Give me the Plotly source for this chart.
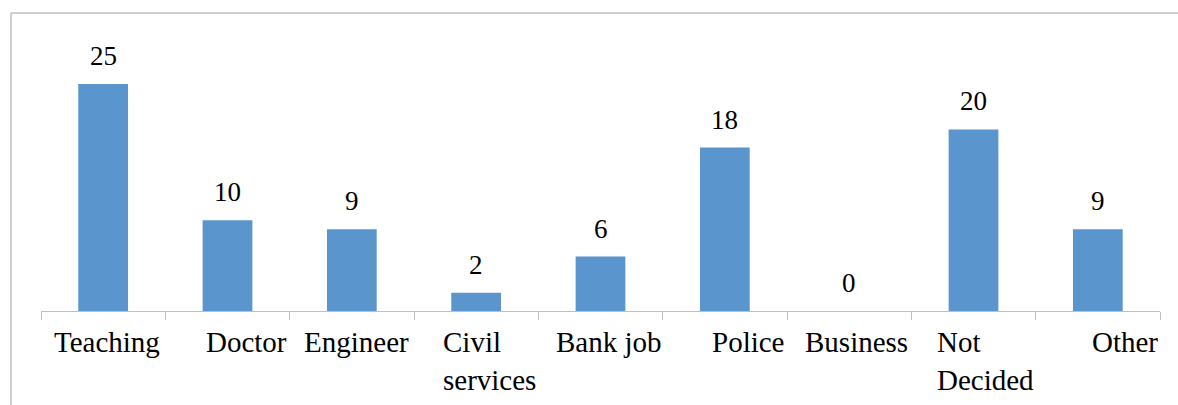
import plotly.graph_objects as go

# Career preference counts
careers = ["Teaching", "Doctor", "Engineer", "Civil services", "Bank job",
           "Police", "Business", "Not Decided", "Other"]
counts = [25, 10, 9, 2, 6, 18, 0, 20, 9]
# Axis label text (line breaks as displayed)
tick_text = ["Teaching", "Doctor", "Engineer", "Civil<br>services", "Bank job",
             "Police", "Business", "Not<br>Decided", "Other"]

BAR_COLOR = "#5B95CE"
GRID_GRAY = "#BFBFBF"
FONT = "Liberation Serif"

W, H = 1178, 405
ML, MR, MT, MB = 41, 18, 40, 94
plot_w = W - ML - MR
plot_h = H - MT - MB

fig = go.Figure()
fig.add_trace(go.Bar(
    x=careers, y=counts, width=0.4,
    marker=dict(color=BAR_COLOR, line=dict(width=0)),
    hoverinfo="x+y",
))

annotations = []
# value labels above the bars
for c, v in zip(careers, counts):
    annotations.append(dict(
        x=c, y=v, xref="x", yref="y", text=str(v), showarrow=False,
        xanchor="center", yanchor="bottom", yshift=11,
        font=dict(family=FONT, size=27, color="#000000"),
    ))

# category labels under the axis (horizontal nudge per label)
label_nudge = [4, 19, 5, 13, 8, 24, 7, 12, 27]
for c, t, dx in zip(careers, tick_text, label_nudge):
    annotations.append(dict(
        x=c, y=0, xref="x", yref="paper", text=t, showarrow=False,
        xanchor="center", yanchor="top", yshift=-13, xshift=dx, align="left",
        font=dict(family=FONT, size=29, color="#000000"),
    ))

# chart-area border (left and top edges; the rest runs off the page)
left_px, top_px = 11, 13
bx = (left_px - ML) / plot_w
by = (H - MB - top_px) / plot_h
shapes = [
    dict(type="line", xref="paper", yref="paper", x0=bx, x1=bx, y0=by, y1=-1,
         line=dict(color=GRID_GRAY, width=1.5)),
    dict(type="line", xref="paper", yref="paper", x0=bx, x1=1.1, y0=by, y1=by,
         line=dict(color=GRID_GRAY, width=1.5)),
]

fig.update_layout(
    width=W, height=H,
    margin=dict(l=ML, r=MR, t=MT, b=MB, pad=0),
    paper_bgcolor="#FFFFFF", plot_bgcolor="#FFFFFF",
    showlegend=False,
    bargap=0.6,
    annotations=annotations,
    shapes=shapes,
    xaxis=dict(
        type="category", showticklabels=False, showgrid=False, zeroline=False,
        showline=True, linecolor=GRID_GRAY, linewidth=1,
        ticks="outside", tickson="boundaries", ticklen=8, tickcolor=GRID_GRAY,
        tickwidth=1, range=[-0.5, 8.5], fixedrange=True,
    ),
    yaxis=dict(
        visible=False, range=[0, 29.85], fixedrange=True,
    ),
)

fig.write_html("out.html")
